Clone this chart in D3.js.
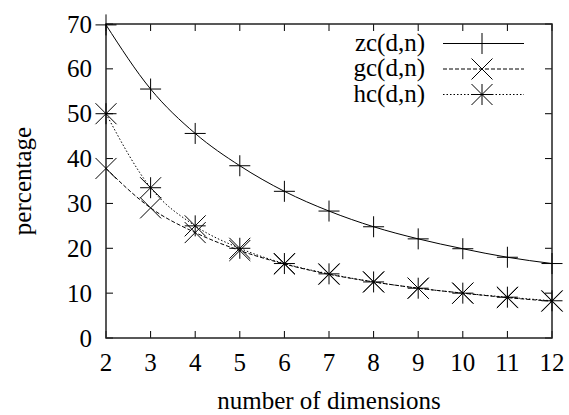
<!DOCTYPE html>
<html>
<head>
<meta charset="utf-8">
<script src="https://cdn.jsdelivr.net/npm/d3@7"></script>
<style>
  body { margin: 0; background: #fff; }
</style>
</head>
<body>
<svg width="569" height="415" font-family="'Liberation Serif', 'Times New Roman', Times, serif" font-size="25"></svg>
<script>
const dims = [2, 3, 4, 5, 6, 7, 8, 9, 10, 11, 12];
const zc = [69.8, 55.5, 45.6, 38.4, 32.7, 28.3, 24.8, 22.1, 19.9, 18.0, 16.6];
const gc = [37.8, 29.0, 23.5, 19.5, 16.5, 14.2, 12.5, 11.1, 10.0, 9.0, 8.2];
const hc = [50.0, 33.5, 25.0, 20.0, 16.6, 14.3, 12.5, 11.1, 10.0, 9.1, 8.3];
const yTicks = [0, 10, 20, 30, 40, 50, 60, 70];
const seriesNames = ["zc(d,n)", "gc(d,n)", "hc(d,n)"];

const svg = d3.select("svg");
const plotL = 106, plotR = 552, plotT = 24, plotB = 338;

const x = d3.scaleLinear().domain([2, 12]).range([plotL, plotR]);
const y = d3.scaleLinear().domain([0, 70]).range([plotB, plotT]);

const tickLen = 7;
const axisG = svg.append("g").attr("stroke", "#000").attr("stroke-width", 1);

// ticks, mirrored on all sides (inward)
dims.forEach((d) => {
  axisG.append("line").attr("x1", x(d)).attr("x2", x(d)).attr("y1", plotB).attr("y2", plotB - tickLen);
  axisG.append("line").attr("x1", x(d)).attr("x2", x(d)).attr("y1", plotT).attr("y2", plotT + tickLen);
});
yTicks.forEach((v) => {
  axisG.append("line").attr("x1", plotL).attr("x2", plotL + tickLen).attr("y1", y(v)).attr("y2", y(v));
  axisG.append("line").attr("x1", plotR).attr("x2", plotR - tickLen).attr("y1", y(v)).attr("y2", y(v));
});

svg.append("rect")
  .attr("x", plotL).attr("y", plotT)
  .attr("width", plotR - plotL).attr("height", plotB - plotT)
  .attr("fill", "none").attr("stroke", "#222").attr("stroke-width", 1.5);

svg.append("g").selectAll("text").data(dims).enter().append("text")
  .attr("x", (d) => x(d)).attr("y", 371)
  .attr("text-anchor", "middle").text((d) => d);

svg.append("g").selectAll("text").data(yTicks).enter().append("text")
  .attr("x", plotL - 14).attr("y", (d) => y(d) + 8.5)
  .attr("text-anchor", "end").text((d) => d);

svg.append("text").attr("x", (plotL + plotR) / 2).attr("y", 409)
  .attr("text-anchor", "middle").text("number of dimensions");

svg.append("text").attr("transform", "translate(31,181) rotate(-90)")
  .attr("text-anchor", "middle").text("percentage");

// markers
const r = 10.5;
function plus(g, cx, cy) {
  g.append("line").attr("x1", cx - r).attr("x2", cx + r).attr("y1", cy).attr("y2", cy);
  g.append("line").attr("x1", cx).attr("x2", cx).attr("y1", cy - r).attr("y2", cy + r);
}
function cross(g, cx, cy) {
  g.append("line").attr("x1", cx - r).attr("x2", cx + r).attr("y1", cy - r).attr("y2", cy + r);
  g.append("line").attr("x1", cx - r).attr("x2", cx + r).attr("y1", cy + r).attr("y2", cy - r);
}
function star(g, cx, cy) { plus(g, cx, cy); cross(g, cx, cy); }

const series = [
  { name: seriesNames[0], values: zc, dash: null, mark: plus },
  { name: seriesNames[1], values: gc, dash: "4,2", mark: cross },
  { name: seriesNames[2], values: hc, dash: "1.5,2", mark: star },
];

const line = d3.line().curve(d3.curveMonotoneX).x((d, i) => x(dims[i])).y((d) => y(d));

series.forEach((s, k) => {
  const g = svg.append("g").attr("stroke", "#000").attr("fill", "none").attr("stroke-width", 1);
  g.append("path").attr("d", line(s.values)).attr("stroke-dasharray", s.dash);
  const mg = svg.append("g").attr("stroke", "#000").attr("stroke-width", 1);
  s.values.forEach((v, i) => s.mark(mg, x(dims[i]), y(v)));

  // legend
  const ly = 43.5 + k * 25.5;
  svg.append("text").attr("x", 425).attr("y", ly + 7).attr("text-anchor", "end").text(s.name);
  g.append("line").attr("x1", 443).attr("x2", 524).attr("y1", ly).attr("y2", ly)
    .attr("stroke-dasharray", s.dash);
  s.mark(mg, 482, ly);
});
</script>
</body>
</html>
